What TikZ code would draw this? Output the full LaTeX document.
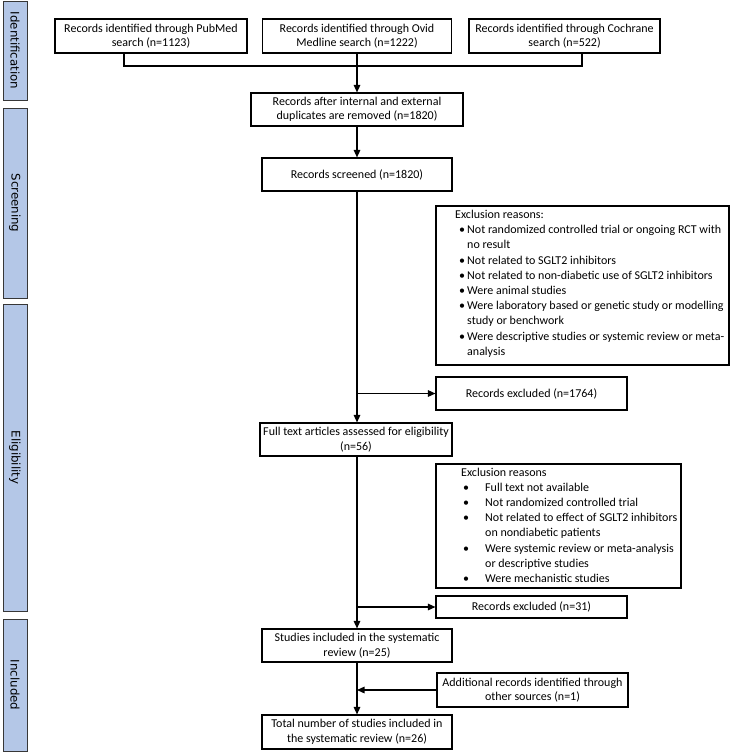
\documentclass[tikz,border=0pt]{standalone}
\usepackage{fontspec}
\setmainfont{Carlito}
\newfontfamily\sidefont{DejaVu Sans}
\usetikzlibrary{arrows.meta}
\definecolor{sidefill}{RGB}{180,199,231}
\definecolor{sideline}{RGB}{55,55,55}
\begin{document}
\begin{tikzpicture}[x=1pt,y=-1pt,
  box/.style={draw=black, line width=1.1pt, fill=white, align=center, inner sep=2pt,
    font=\fontsize{12}{14.5}\selectfont},
  side/.style={draw=sideline, line width=1pt, fill=sidefill, rotate=-90, minimum height=24,
    inner sep=0pt, font=\sidefont\fontsize{11.8}{13}\selectfont, text=black},
  listtext/.style={anchor=north west, inner sep=0pt, align=left,
    font=\fontsize{12}{15.2}\selectfont},
  conn/.style={line width=1.4pt},
  arr/.style={conn, -{Triangle[length=7.5pt,width=6.5pt]}}
  ]
\useasboundingbox[fill=white] (0,0) rectangle (731,753);

% phase side bars
\node[side, minimum width=99]  (sid) at (15,50.5) {Identification};
\node[side, minimum width=190] (ssc) at (15,203)  {Screening};
\node[side, minimum width=307] (sel) at (15,457.5) {Eligibility};
\node[side, minimum width=132] (sin) at (15,685)  {Included};

% boxes
\node[box, minimum width=192, minimum height=34] (pub) at (151,36)
  {Records identified through PubMed\\search (n=1123)};
\node[box, minimum width=189, minimum height=34] (ovid) at (357,36)
  {Records identified through Ovid\\Medline search (n=1222)};
\node[box, minimum width=191, minimum height=34] (coch) at (564.5,36)
  {Records identified through Cochrane\\search (n=522)};
\node[box, minimum width=212, minimum height=33] (dup) at (357,109.5)
  {Records after internal and external\\duplicates are removed (n=1820)};
\node[box, minimum width=190, minimum height=33] (scr) at (357,174.5)
  {Records screened (n=1820)};
\node[box, minimum width=293, minimum height=159] (exa) at (582.5,285.5) {};
\node[listtext] (exat) at (455,210)
  {Exclusion reasons:\\
   \hspace*{4pt}\makebox[8pt][l]{\textbullet}Not randomized controlled trial or ongoing RCT with\\
   \hspace*{12pt}no result\\
   \hspace*{4pt}\makebox[8pt][l]{\textbullet}Not related to SGLT2 inhibitors\\
   \hspace*{4pt}\makebox[8pt][l]{\textbullet}Not related to non-diabetic use of SGLT2 inhibitors\\
   \hspace*{4pt}\makebox[8pt][l]{\textbullet}Were animal studies\\
   \hspace*{4pt}\makebox[8pt][l]{\textbullet}Were laboratory based or genetic study or modelling\\
   \hspace*{12pt}study or benchwork\\
   \hspace*{4pt}\makebox[8pt][l]{\textbullet}Were descriptive studies or systemic review or meta-\\
   \hspace*{12pt}analysis};
\node[box, minimum width=191, minimum height=33] (rea) at (531.5,393.5)
  {Records excluded (n=1764)};
\node[box, minimum width=192, minimum height=33] (full) at (356,439.5)
  {Full text articles assessed for eligibility\\(n=56)};
\node[box, minimum width=245, minimum height=124] (exb) at (558.5,526) {};
\node[listtext] (exbt) at (461,467.5)
  {Exclusion reasons\\
   \hspace*{2pt}\makebox[22pt][l]{\textbullet}Full text not available\\
   \hspace*{2pt}\makebox[22pt][l]{\textbullet}Not randomized controlled trial\\
   \hspace*{2pt}\makebox[22pt][l]{\textbullet}Not related to effect of SGLT2 inhibitors\\
   \hspace*{24pt}on nondiabetic patients\\
   \hspace*{2pt}\makebox[22pt][l]{\textbullet}Were systemic review or meta-analysis\\
   \hspace*{24pt}or descriptive studies\\
   \hspace*{2pt}\makebox[22pt][l]{\textbullet}Were mechanistic studies};
\node[box, minimum width=191, minimum height=22] (reb) at (531.5,607)
  {Records excluded (n=31)};
\node[box, minimum width=190, minimum height=33] (stud) at (357,645.5)
  {Studies included in the systematic\\review (n=25)};
\node[box, minimum width=191, minimum height=34] (add) at (532.5,690)
  {Additional records identified through\\other sources (n=1)};
\node[box, minimum width=190, minimum height=34] (tot) at (357,732)
  {Total number of studies included in\\the systematic review (n=26)};

% connectors
\coordinate (jl) at (124,66);
\coordinate (jr) at (582,66);
\draw[conn] (pub.south -| jl) -- (jl) -- (jr) -- (coch.south -| jr);
\draw[arr] (ovid.south) -- (dup.north);
\draw[arr] (dup.south) -- (scr.north);
\draw[arr] (scr.south) -- (scr.south |- full.north);
\draw[arr] (scr.south |- rea.west) -- (rea.west);
\draw[arr] (scr.south |- full.south) -- (stud.north);
\draw[arr] (scr.south |- reb.west) -- (reb.west);
\draw[arr] (stud.south) -- (tot.north);
\draw[arr] (add.west) -- (add.west -| stud.south);
\end{tikzpicture}
\end{document}
